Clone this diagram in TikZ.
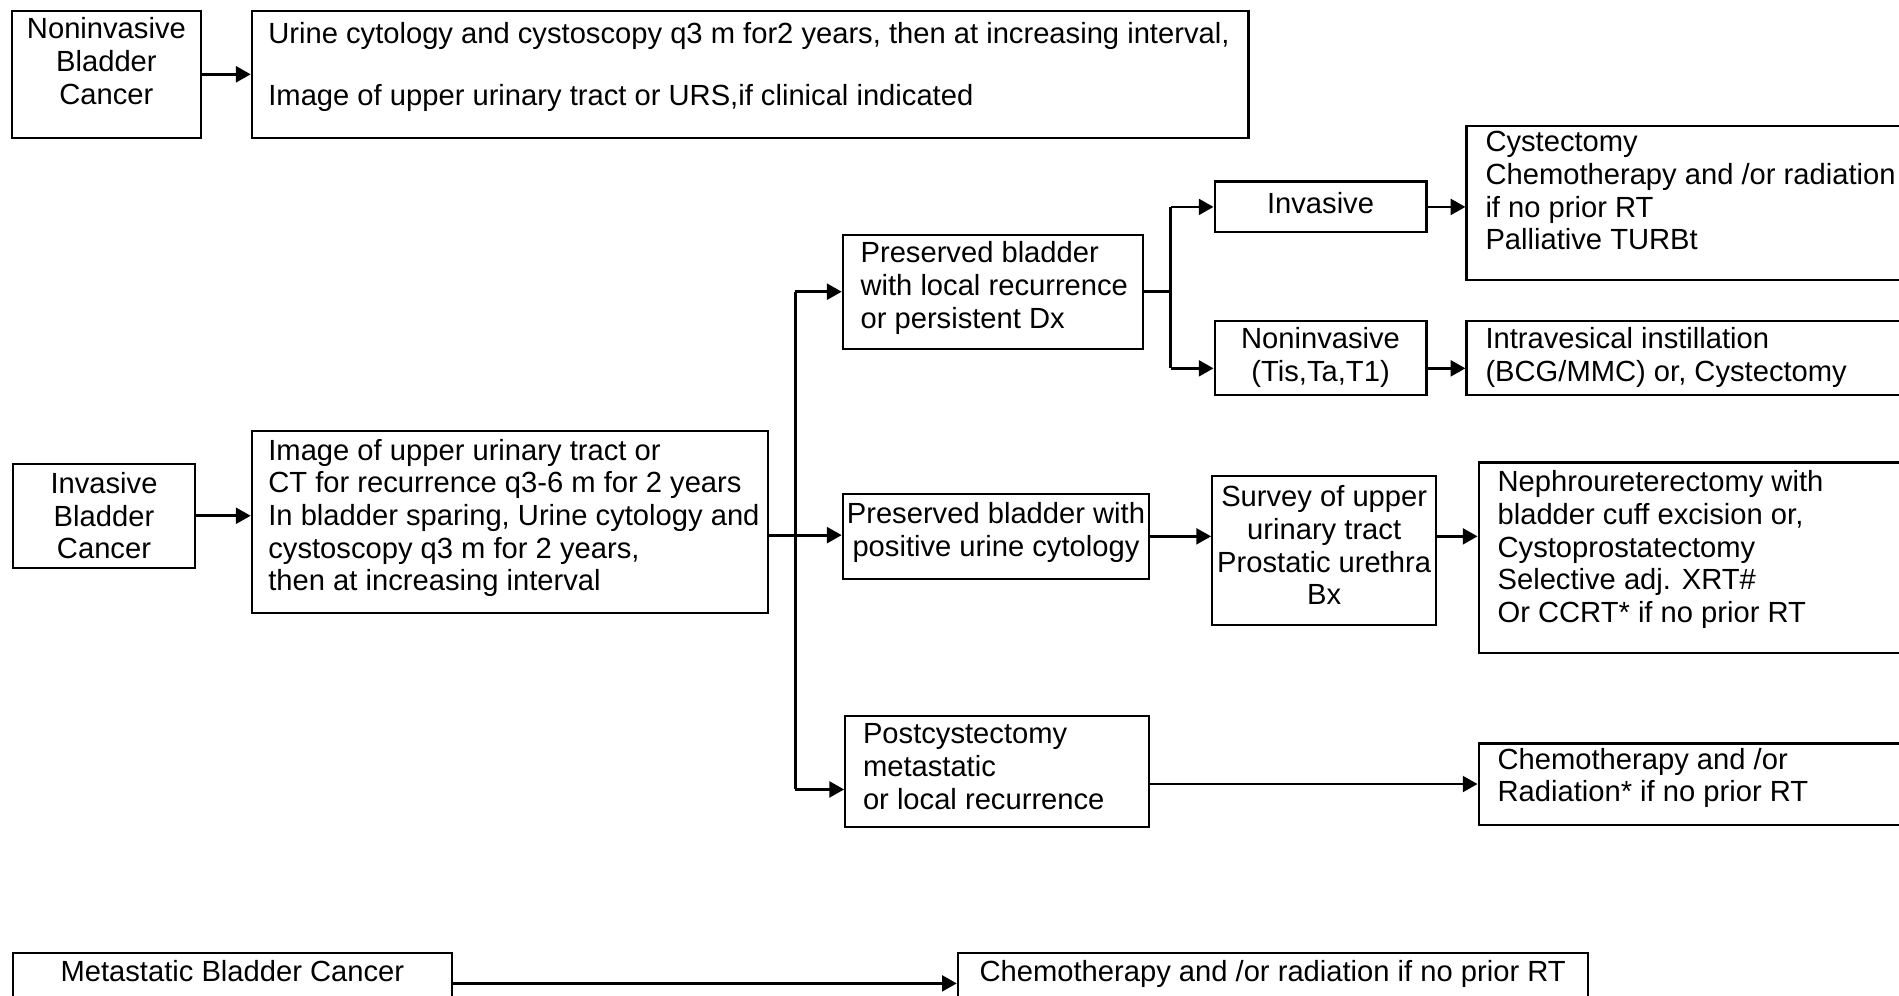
\documentclass[tikz,border=0pt]{standalone}
\usepackage{fontspec}
\setmainfont{Liberation Sans}
\usepackage{tikz}
\usetikzlibrary{calc, arrows.meta}

\begin{document}
\begin{tikzpicture}[
  x=0.01211cm, y=-0.01211cm,
  box/.style 2 args={draw, line width=0.6pt, inner sep=0pt, anchor=north west, minimum width=#1*0.01211cm, minimum height=#2*0.01211cm},
  txt/.style={inner sep=0pt, align=left, font=\fontsize{8.3}{9.3}\selectfont},
  ctxt/.style={txt, align=center},
  link/.style={line width=0.8pt},
  arr/.style={link, -{Triangle[length=4.2pt, width=4.5pt]}},
]
\useasboundingbox (0,0) rectangle (1568,822);
\clip (0,0) rectangle (1568,822);

% Noninvasive
\node[box={156}{105}] (noninv) at (9,8) {};
\node[ctxt, anchor=north] at ([shift={(0,6)}]noninv.north) {Noninvasive\\Bladder\\Cancer};
\node[box={823}{105}] (noninvplan) at (207,8) {};
\node[txt, anchor=north west] at ([shift={(14,10)}]noninvplan.north west) {Urine cytology and cystoscopy q3 m for2 years, then at increasing interval,\\[8.3pt]Image of upper urinary tract or URS,if clinical indicated};
\draw[arr] (noninv.east) -- (noninvplan.west);

% Invasive
\node[box={150}{86}] (inv) at (10,382) {};
\node[ctxt] at (inv.center) {Invasive\\Bladder\\Cancer};
\node[box={426}{150}] (invplan) at (207,355) {};
\node[txt, anchor=north west] at ([shift={(14,7)}]invplan.north west) {Image of upper urinary tract or\\CT for recurrence q3-6 m for 2 years\\In bladder sparing, Urine cytology and\\cystoscopy q3 m for 2 years,\\then at increasing interval};
\draw[arr] (inv.east) -- (inv.east -| invplan.west);

% Follow-up branches
\node[box={248}{94}] (local) at (695,193) {};
\node[txt, anchor=north west] at ([shift={(15,6)}]local.north west) {Preserved bladder\\with local recurrence\\or persistent Dx};
\node[box={253}{70}] (posurine) at (695,407) {};
\node[ctxt] at ([shift={(0,-3)}]posurine.center) {Preserved bladder with\\positive urine cytology};
\node[box={251}{92}] (postcyst) at (697,590) {};
\node[txt, anchor=north west] at ([shift={(15,7)}]postcyst.north west) {Postcystectomy\\metastatic\\or local recurrence};
\coordinate (trunk) at ($(invplan.east)+(22,11)$);
\coordinate (postin) at ($(postcyst.north west)!0.66!(postcyst.south west)$);
\draw[link] (invplan.east |- trunk) -- (trunk);
\draw[link] (trunk |- local.west) -- (trunk |- postin);
\draw[arr] (trunk |- local.west) -- (local.west);
\draw[arr] (trunk) -- (trunk -| posurine.west);
\draw[arr] (trunk |- postin) -- (postin);

% Local recurrence
\node[box={175}{42}] (invsub) at (1002,149) {};
\node[ctxt] at ([shift={(0,-3)}]invsub.center) {Invasive};
\node[box={175}{61}] (noninvsub) at (1002,264) {};
\node[ctxt] at (noninvsub.center) {Noninvasive\\(Tis,Ta,T1)};
\coordinate (split) at ($(local.east)+(22,0)$);
\coordinate (noninvin) at ($(noninvsub.north west)!0.64!(noninvsub.south west)$);
\draw[link] (local.east) -- (split);
\draw[link] (split |- invsub.west) -- (split |- noninvin);
\draw[arr] (split |- invsub.west) -- (invsub.west);
\draw[arr] (split |- noninvin) -- (noninvin);
\node[box={390}{127}] (cyst) at (1210,103) {};
\node[txt, anchor=north west] at ([shift={(16,5)}]cyst.north west) {Cystectomy\\Chemotherapy and /or radiation\\if no prior RT\\Palliative TURBt};
\node[box={390}{61}] (instill) at (1210,264) {};
\node[txt, anchor=north west] at ([shift={(16,6)}]instill.north west) {Intravesical instillation\\(BCG/MMC) or, Cystectomy};
\draw[arr] (invsub.east) -- (invsub.east -| cyst.west);
\draw[arr] (noninvin -| noninvsub.east) -- (noninvin -| instill.west);

% Positive cytology
\node[box={185}{123}] (survey) at (1000,392) {};
\node[ctxt] at ([shift={(0,-4)}]survey.center) {Survey of upper\\urinary tract\\Prostatic urethra\\Bx};
\node[box={380}{157}] (nephro) at (1220,381) {};
\node[txt, anchor=north west] at ([shift={(16,7)}]nephro.north west) {Nephroureterectomy with\\bladder cuff excision or,\\Cystoprostatectomy\\Selective adj. XRT\#\\Or CCRT* if no prior RT};
\draw[arr] (posurine.east) -- (posurine.east -| survey.west);
\draw[arr] (posurine.east -| survey.east) -- (posurine.east -| nephro.west);

% Postcystectomy
\node[box={380}{67}] (chemorad) at (1220,613) {};
\node[txt, anchor=north west] at ([shift={(16,4)}]chemorad.north west) {Chemotherapy and /or\\Radiation* if no prior RT};
\draw[arr] (chemorad.west -| postcyst.east) -- (chemorad.west);

% Metastatic
\node[box={362}{60}] (meta) at (10,786) {};
\node[ctxt, anchor=north] at ([shift={(0,6)}]meta.north) {Metastatic Bladder Cancer};
\node[box={520}{60}] (metachemo) at (790,786) {};
\node[ctxt, anchor=north] at ([shift={(0,6)}]metachemo.north) {Chemotherapy and /or radiation if no prior RT};
\draw[arr] ([shift={(0,26)}]meta.north east) -- ([shift={(0,26)}]metachemo.north west);
\end{tikzpicture}
\end{document}
